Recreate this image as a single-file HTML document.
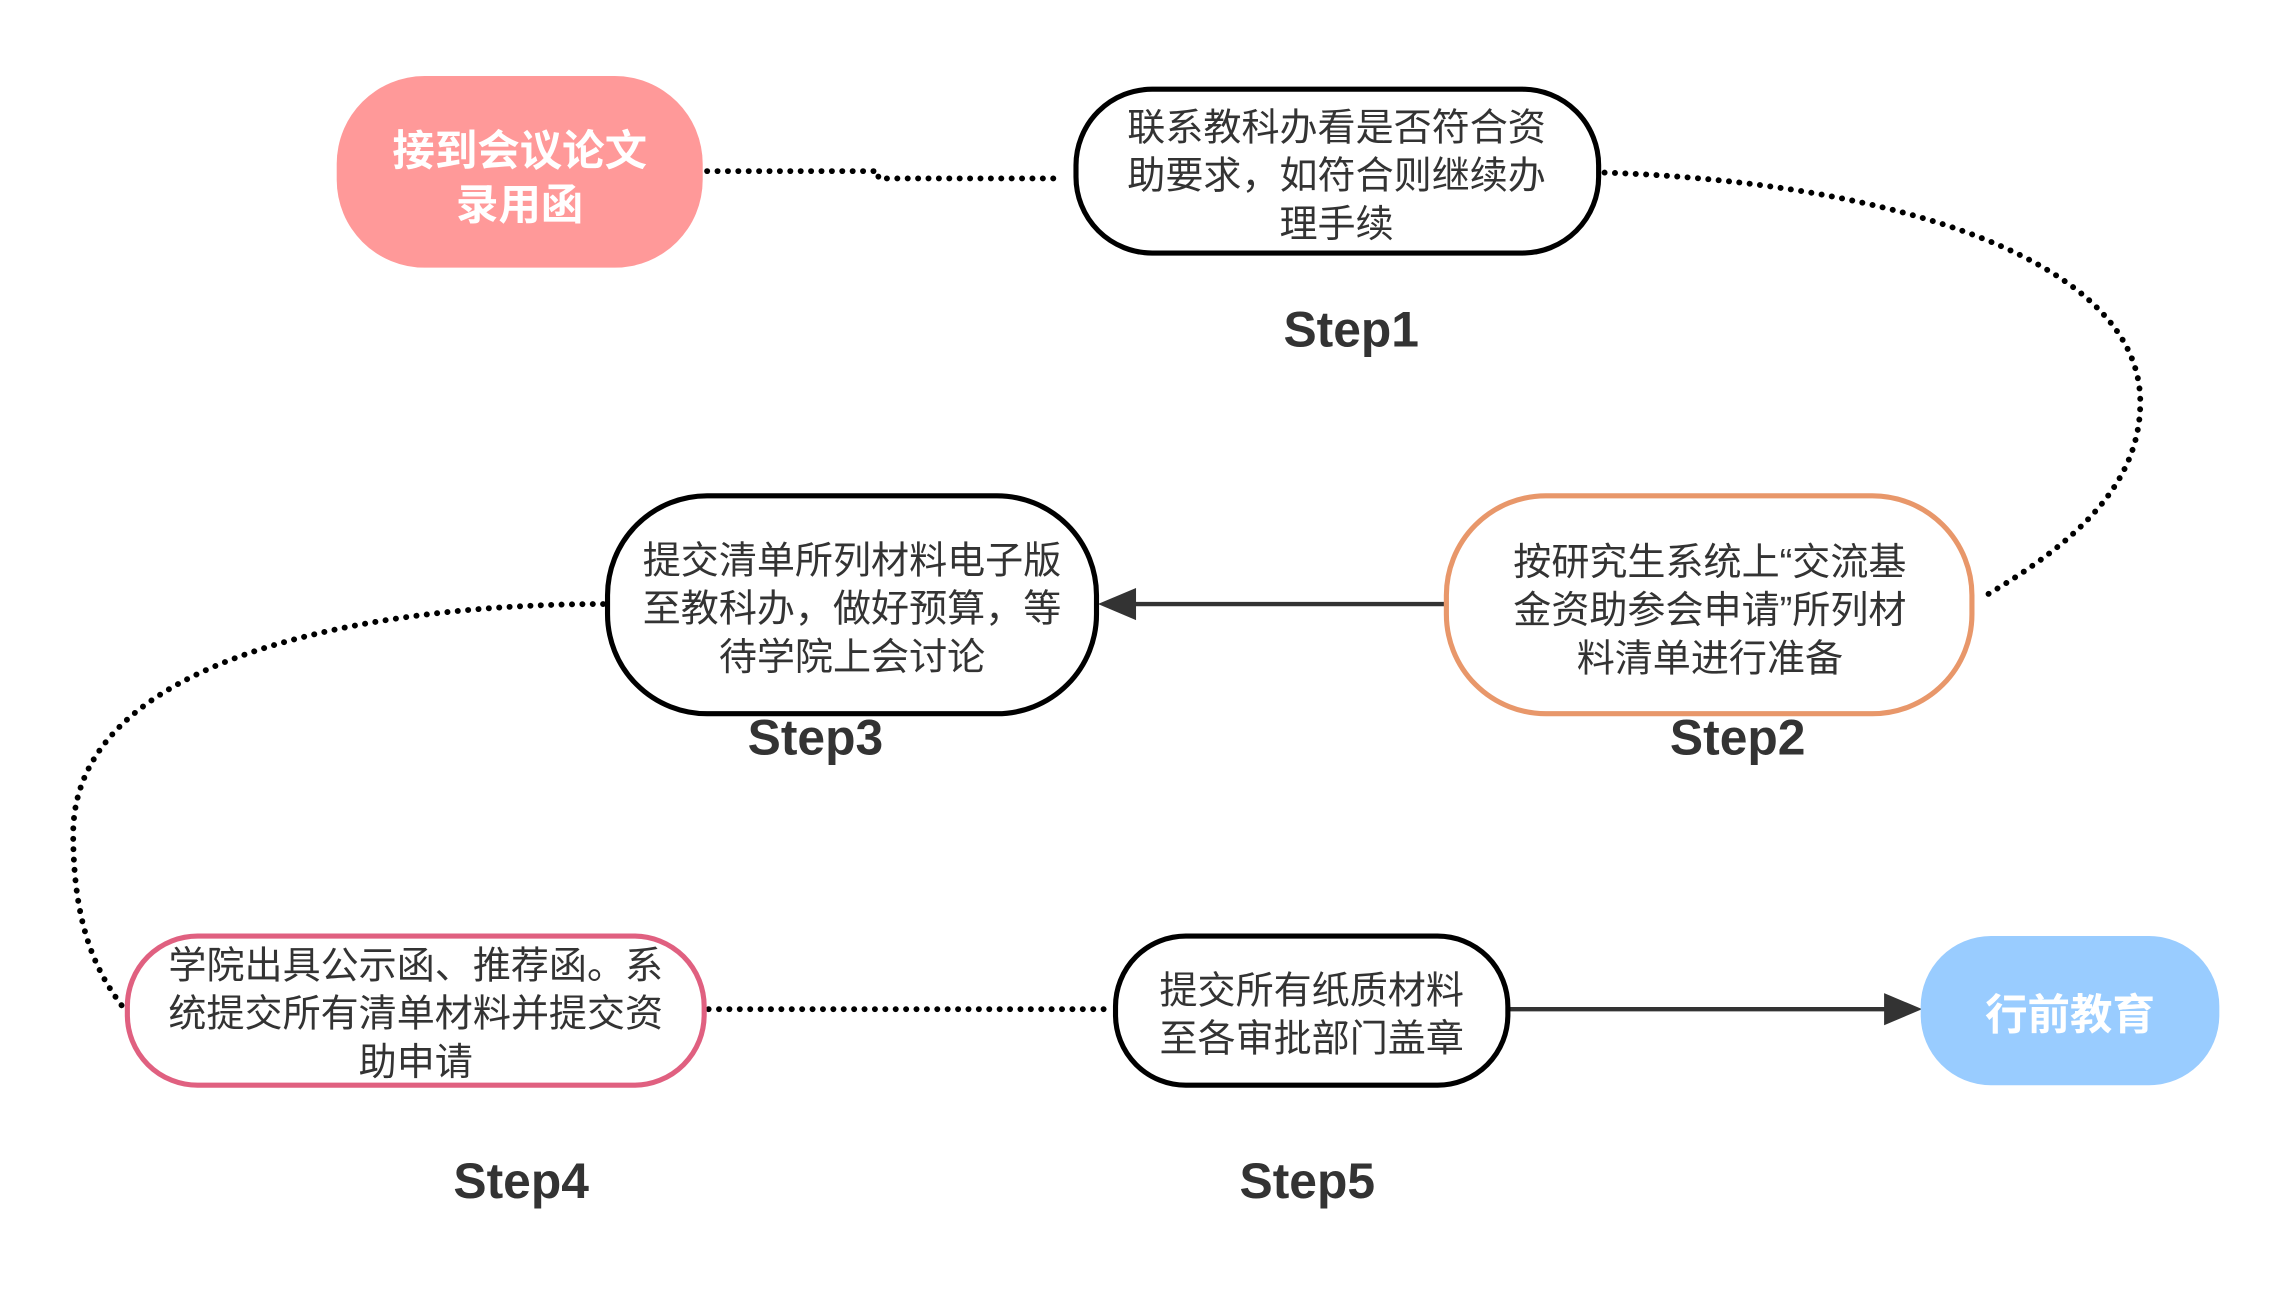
<!DOCTYPE html>
<html><head><meta charset="utf-8"><style>
html,body{margin:0;padding:0;background:#fff;}
svg{display:block;}
text{font-family:"Liberation Sans","Noto Sans CJK SC",sans-serif;}
</style></head><body>
<svg width="2294" height="1309" viewBox="0 0 1567 895" preserveAspectRatio="none" xmlns="http://www.w3.org/2000/svg">
<g fill="none" stroke="#000" stroke-width="4" stroke-linecap="round" stroke-dasharray="0.1 7">
<path d="M483,117 L600,117 L600,122 L725,122"/>
<path d="M1096,118 C1300,125 1462,180 1462,275 C1462,330 1420,370 1355,408"/>
<path d="M412,413 C250,413 50,450 50,570 C50,640 70,670 85,690"/>
<path d="M484,690 L757,690"/>
</g>
<path d="M988,413 L770,413" stroke="#333" stroke-width="3"/>
<path d="M750,413 L776,402 L776,424 Z" fill="#333"/>
<path d="M1030,690 L1292,690" stroke="#333" stroke-width="3"/>
<path d="M1313,690 L1287,679 L1287,701 Z" fill="#333"/>

<rect x="230" y="52" width="250" height="131" rx="60" fill="#FF9999"/>
<text x="355" y="113" font-size="29" font-weight="bold" fill="#fff" text-anchor="middle">接到会议论文</text>
<text x="355" y="150" font-size="29" font-weight="bold" fill="#fff" text-anchor="middle">录用函</text>

<rect x="735" y="61" width="357" height="112" rx="52" fill="#fff" stroke="#000" stroke-width="3.5"/>
<g font-size="26" fill="#333" text-anchor="middle">
<text x="913" y="96">联系教科办看是否符合资</text>
<text x="913" y="129">助要求，如符合则继续办</text>
<text x="913" y="162">理手续</text>
</g>

<rect x="988" y="339" width="359" height="149" rx="68" fill="#fff" stroke="#E8976A" stroke-width="3.5"/>
<g font-size="26" fill="#333" text-anchor="middle">
<text x="1168" y="393">按研究生系统上“交流基</text>
<text x="1168" y="426">金资助参会申请”所列材</text>
<text x="1168" y="459">料清单进行准备</text>
</g>

<rect x="415" y="339" width="334" height="149" rx="68" fill="#fff" stroke="#000" stroke-width="3.5"/>
<g font-size="26" fill="#333" text-anchor="middle">
<text x="582" y="392">提交清单所列材料电子版</text>
<text x="582" y="425">至教科办，做好预算，等</text>
<text x="582" y="458">待学院上会讨论</text>
</g>

<rect x="87" y="640" width="394" height="102" rx="48" fill="#fff" stroke="#E06080" stroke-width="3.5"/>
<g font-size="26" fill="#333" text-anchor="middle">
<text x="284" y="669">学院出具公示函、推荐函。系</text>
<text x="284" y="702">统提交所有清单材料并提交资</text>
<text x="284" y="735">助申请</text>
</g>

<rect x="762" y="640" width="268" height="102" rx="48" fill="#fff" stroke="#000" stroke-width="3.5"/>
<g font-size="26" fill="#333" text-anchor="middle">
<text x="896" y="686">提交所有纸质材料</text>
<text x="896" y="719">至各审批部门盖章</text>
</g>

<rect x="1312" y="640" width="204" height="102" rx="48" fill="#99CCFF"/>
<text x="1414" y="704" font-size="29" font-weight="bold" fill="#fff" text-anchor="middle">行前教育</text>

<g font-size="34" font-weight="bold" fill="#333" text-anchor="middle">
<text x="923" y="237">Step1</text>
<text x="1187" y="516">Step2</text>
<text x="557" y="516">Step3</text>
<text x="356" y="819">Step4</text>
<text x="893" y="819">Step5</text>
</g>
</svg>
</body></html>
